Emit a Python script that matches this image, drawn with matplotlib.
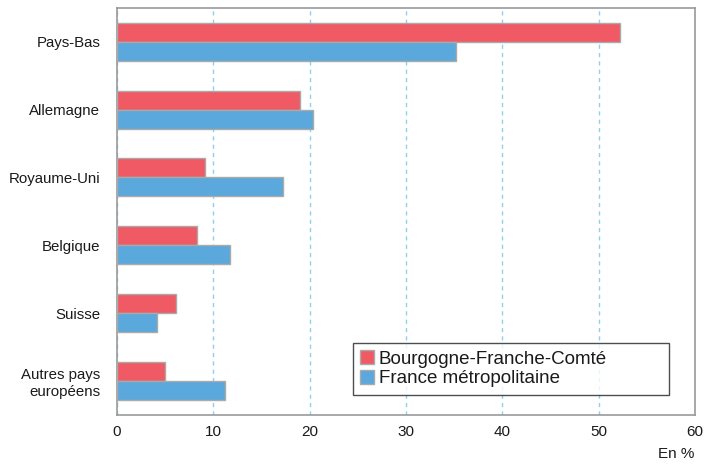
import matplotlib
matplotlib.use("Agg")
import matplotlib.pyplot as plt
import numpy as np
from matplotlib.patches import Patch

plt.rcParams["font.family"] = ["Liberation Sans", "DejaVu Sans"]

categories = ["Pays-Bas", "Allemagne", "Royaume-Uni", "Belgique", "Suisse",
              "Autres pays\neuropéens"]
bfc = [52.2, 19.0, 9.1, 8.3, 6.1, 5.0]
france = [35.2, 20.4, 17.2, 11.7, 4.2, 11.2]
series_names = ["Bourgogne-Franche-Comté", "France métropolitaine"]

RED = "#f05a64"
BLUE = "#5ba8dc"
EDGE = "#aaaaaa"

fig = plt.figure(figsize=(7.2, 4.65), dpi=100)
ax = fig.add_axes([0.1625, 0.108, 0.8025, 0.875])

y = np.arange(len(categories))
h = 0.28
ax.barh(y - h / 2, bfc, height=h, color=RED, edgecolor=EDGE, linewidth=1.0, zorder=3)
ax.barh(y + h / 2, france, height=h, color=BLUE, edgecolor=EDGE, linewidth=1.0, zorder=3)

ax.set_xlim(0, 60)
ax.set_ylim(len(categories) - 0.5, -0.5)
ax.set_xticks(range(0, 61, 10))
ax.set_yticks(y)
ax.set_yticklabels(categories, fontsize=10.8, color="#1a1a1a")
ax.tick_params(axis="x", length=0, pad=7, labelsize=11, labelcolor="#1a1a1a")
ax.tick_params(axis="y", length=0, pad=12)
ax.grid(axis="x", color="#8fd0ec", linestyle=(0, (3, 3)), linewidth=1.0, zorder=0)
for s in ax.spines.values():
    s.set_color("#999999")
    s.set_linewidth(1.2)

# legend box is wider than its text in the original, so stretch it
handles = [Patch(facecolor=RED, edgecolor=EDGE), Patch(facecolor=BLUE, edgecolor=EDGE)]
leg = ax.legend(handles, series_names, loc="lower left",
                bbox_to_anchor=(0.408, 0.049, 0.547, 0.138), mode="expand",
                fontsize=13.5, frameon=True, fancybox=False, edgecolor="#222222",
                handlelength=0.75, handleheight=0.8, handletextpad=0.25,
                labelspacing=0.1, borderpad=0.4, borderaxespad=0.0)
leg.get_frame().set_linewidth(1.0)
for t in leg.get_texts():
    t.set_color("#1a1a1a")
leg.set_zorder(5)

fig.text(0.965, 0.008, "En %", ha="right", va="bottom", fontsize=11, color="#1a1a1a")

fig.savefig("out.png", dpi=100)
